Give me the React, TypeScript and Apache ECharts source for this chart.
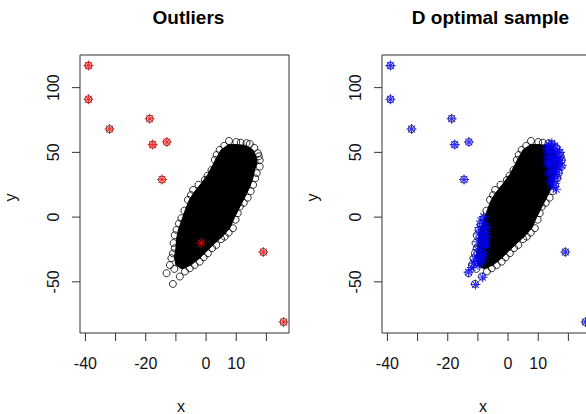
import React, { useEffect, useRef } from "react";
import * as echarts from "echarts";

// Outliers (red in the left panel)
const outlierPoints: number[][] = [
  [-39, 117], [-39, 91], [-32, 68], [-18.7, 76], [-17.7, 56],
  [-13, 58], [-14.6, 29], [-1.6, -20], [19, -27], [25.7, -81],
];

// Outliers kept by the D optimal sample (blue in the right panel)
const dOptOutliers: number[][] = [
  [-39, 117], [-39, 91], [-32, 68], [-18.7, 76], [-17.7, 56],
  [-13, 58], [-14.6, 29], [19, -27], [25.7, -81],
];

// Outline of the dense black cloud (x, y)
const cloudOutline: number[][] = [
  [7.5, 56], [10, 56], [13, 55.5], [15.5, 52], [16.6, 47], [16.8, 42],
  [16.2, 37], [15.5, 30], [14.6, 24], [13, 16], [11.2, 8], [9.5, 0],
  [8, -8], [5.8, -14], [3, -20], [0.3, -26], [-2.3, -32], [-5, -37],
  [-8, -40], [-10, -37], [-10.5, -31], [-10, -24], [-9.8, -17], [-9.2, -10],
  [-8, -2], [-6.8, 6], [-5.6, 13], [-4, 19], [-1.6, 26], [0.6, 33],
  [2.2, 40], [3.5, 46], [5, 52],
];

// Individual points visible on the edge of the cloud
const cloudEdgePoints: number[][] = [
  [7.6, 58.8], [10, 58], [11.5, 57.5], [13.4, 57.1], [14.5, 56.5], [16, 53.5],
  [17.2, 49.3], [17.5, 47], [17.8, 44], [16.1, 42.9], [17.8, 39], [16.8, 34],
  [16.3, 30], [15.6, 24.9], [14.8, 20], [13.8, 15], [12.5, 11], [11.2, 8.1],
  [10.5, 3], [9.8, -2], [8.9, -8.6], [7.5, -12], [6.2, -15.1], [5, -17],
  [3.4, -21.5], [2, -24], [0.6, -27.9], [-0.8, -31], [-2.1, -34.4], [-3.8, -37],
  [-5.4, -39.5], [-7, -42], [-8.7, -45.9], [-13.1, -43.3], [-11, -51.6],
  [-10.5, -40], [-12, -37], [-11.5, -31.7], [-11, -28], [-10.4, -24],
  [-10.8, -20], [-10.4, -14], [-9.8, -9.9], [-9, -5], [-8.2, -0.8],
  [-7.2, 5], [-6, 13.3], [-5, 17], [-4.3, 21], [-2.5, 25], [-0.4, 28.7],
  [0.5, 32], [1.8, 36.4], [2.9, 44.2], [3.5, 48], [4.5, 51.9], [6, 55],
];

// D optimal sample: upper right end of the cloud
const dOptUpper: number[][] = [
  [13.5, 56], [14.5, 57], [15.5, 55], [16.5, 52], [17.2, 50], [14, 53],
  [15, 51], [16, 48], [17, 46], [13.5, 50], [14.5, 47], [15.5, 44],
  [16.5, 42], [17.5, 44], [13, 46], [14, 43], [15, 40], [16, 37],
  [17, 38], [13.5, 40], [14.5, 36], [15.5, 33], [16.2, 30], [13.5, 34],
  [14.5, 30], [15.5, 26], [14, 27], [15, 23], [16, 21.5], [16.5, 34],
  [12.8, 53], [13, 42], [17.8, 40],
];

// D optimal sample: lower left end of the cloud
const dOptLower: number[][] = [
  [-8.1, 0.4], [-9, -3], [-8, -5], [-9.5, -8], [-8.5, -10], [-7.5, -12],
  [-9.8, -13], [-9, -16], [-8, -18], [-10, -19], [-9, -22], [-7.5, -23],
  [-10.2, -25], [-9, -27], [-8, -29], [-10.5, -30], [-9.5, -32], [-8.5, -34],
  [-11.4, -35.6], [-10, -37], [-12, -39], [-13.1, -42.5], [-8.4, -46.5],
  [-10.8, -52], [-7, -8], [-7, -15], [-7.2, -20], [-11, -33],
];

const xTicks = [-40, -30, -20, -10, 0, 10, 20];
const xTickLabels = [-40, -20, 0, 10];
const yTicks = [-50, 0, 50, 100];
const panelTitles = ["Outliers", "D optimal sample"];

// data range of the plot box
const X_MIN = -41.8;
const X_MAX = 27.5;
const Y_MIN = -89.5;
const Y_MAX = 125.2;

const FONT = "'Liberation Sans', Arial, sans-serif";
const ASTERISK = "path://M0,5L10,5M5,0L5,10M1.6,1.6L8.4,8.4M8.4,1.6L1.6,8.4";

// plot box layout (pixels); the grid is padded so the ticks fall inside it
const BOX_LEFTS = [80, 382];
const BOX_TOP = 55;
const BOX_W = 209;
const BOX_H = 278;
const TICK_LEN = 8;
const PAD_LB = 9;
const PAD_TR = 2;
const PX_X = BOX_W / (X_MAX - X_MIN);
const PX_Y = BOX_H / (Y_MAX - Y_MIN);

export default function App() {
  const ref = useRef<HTMLDivElement>(null);
  useEffect(() => {
    if (!ref.current) return;
    const chart = echarts.init(ref.current, null, { renderer: "svg" });

    const xAxis = (gi: number) => ({
      type: "value",
      gridIndex: gi,
      position: "bottom",
      min: X_MIN - PAD_LB / PX_X,
      max: X_MAX + PAD_TR / PX_X,
      name: "x",
      nameLocation: "middle",
      nameGap: 65 - PAD_LB,
      nameTextStyle: { fontSize: 16, color: "#111", fontFamily: FONT },
      axisLine: { show: false, onZero: false },
      splitLine: { show: false },
      axisTick: { show: false },
      axisLabel: {
        show: true,
        customValues: xTickLabels,
        margin: 22 - PAD_LB,
        fontSize: 16,
        color: "#111",
        fontFamily: FONT,
        hideOverlap: false,
      },
    });
    const yAxis = (gi: number) => ({
      type: "value",
      gridIndex: gi,
      position: "left",
      min: Y_MIN - PAD_LB / PX_Y,
      max: Y_MAX + PAD_TR / PX_Y,
      name: "y",
      nameLocation: "middle",
      nameGap: 62 - PAD_LB,
      nameRotate: 90,
      nameTextStyle: { fontSize: 16, color: "#111", fontFamily: FONT },
      axisLine: { show: false, onZero: false },
      splitLine: { show: false },
      axisTick: { show: false },
      axisLabel: {
        show: true,
        customValues: yTicks,
        rotate: 90,
        margin: 19 - PAD_LB,
        fontSize: 16,
        color: "#111",
        fontFamily: FONT,
        hideOverlap: false,
      },
    });

    // plot box and tick marks, placed through the axes' scales
    const frameSeries = (gi: number) => ({
      type: "custom",
      xAxisIndex: gi,
      yAxisIndex: gi,
      silent: true,
      clip: false,
      z: 20,
      data: [[0, 0]],
      renderItem: (_p: any, api: any) => {
        const tl = api.coord([X_MIN, Y_MAX]);
        const br = api.coord([X_MAX, Y_MIN]);
        const children: any[] = [
          {
            type: "rect",
            shape: { x: tl[0], y: tl[1], width: br[0] - tl[0], height: br[1] - tl[1] },
            style: { fill: "none", stroke: "#333", lineWidth: 1 },
          },
        ];
        xTicks.forEach((v) => {
          const pt = api.coord([v, Y_MIN]);
          children.push({
            type: "line",
            shape: { x1: pt[0], y1: pt[1], x2: pt[0], y2: pt[1] + TICK_LEN },
            style: { stroke: "#333", lineWidth: 1 },
          });
        });
        yTicks.forEach((v) => {
          const pt = api.coord([X_MIN, v]);
          children.push({
            type: "line",
            shape: { x1: pt[0], y1: pt[1], x2: pt[0] - TICK_LEN, y2: pt[1] },
            style: { stroke: "#333", lineWidth: 1 },
          });
        });
        return { type: "group", children };
      },
    });

    const circleSeries = (gi: number, data: number[][]) => ({
      type: "scatter",
      xAxisIndex: gi,
      yAxisIndex: gi,
      data,
      symbol: "circle",
      symbolSize: 7,
      silent: true,
      itemStyle: { color: "transparent", borderColor: "#000", borderWidth: 1 },
    });
    const cloudSeries = (gi: number) => ({
      type: "custom",
      xAxisIndex: gi,
      yAxisIndex: gi,
      silent: true,
      data: [cloudOutline[0]],
      renderItem: (_params: any, api: any) => ({
        type: "polygon",
        shape: { points: cloudOutline.map((p) => api.coord(p)) },
        style: { fill: "#000", stroke: "#000", lineWidth: 1 },
      }),
    });
    const starSeries = (gi: number, data: number[][], color: string) => ({
      type: "scatter",
      xAxisIndex: gi,
      yAxisIndex: gi,
      data,
      symbol: ASTERISK,
      symbolSize: 10,
      silent: true,
      itemStyle: { color: "transparent", borderColor: color, borderWidth: 1.1 },
    });

    chart.setOption({
      animation: false,
      backgroundColor: "#fff",
      title: panelTitles.map((t, i) => ({
        text: t,
        left: BOX_LEFTS[i] + BOX_W / 2 - 1,
        top: 3,
        textAlign: "center",
        textStyle: { fontSize: 19, fontWeight: "bold", color: "#000", fontFamily: FONT },
      })),
      grid: BOX_LEFTS.map((l) => ({
        left: l - PAD_LB,
        top: BOX_TOP - PAD_TR,
        width: BOX_W + PAD_LB + PAD_TR,
        height: BOX_H + PAD_LB + PAD_TR,
        show: false,
        containLabel: false,
        outerBoundsMode: "none",
      })),
      xAxis: [xAxis(0), xAxis(1)],
      yAxis: [yAxis(0), yAxis(1)],
      series: [
        frameSeries(0),
        frameSeries(1),
        circleSeries(0, cloudEdgePoints),
        circleSeries(0, outlierPoints),
        cloudSeries(0),
        starSeries(0, outlierPoints, "#ff0000"),
        circleSeries(1, cloudEdgePoints),
        circleSeries(1, outlierPoints),
        cloudSeries(1),
        starSeries(1, dOptOutliers, "#0000ff"),
        starSeries(1, dOptUpper, "#0000ff"),
        starSeries(1, dOptLower, "#0000ff"),
      ],
    });

    return () => chart.dispose();
  }, []);
  return (
    <div
      ref={ref}
      style={{ position: "absolute", left: 0, top: 0, width: 586, height: 414 }}
    />
  );
}
